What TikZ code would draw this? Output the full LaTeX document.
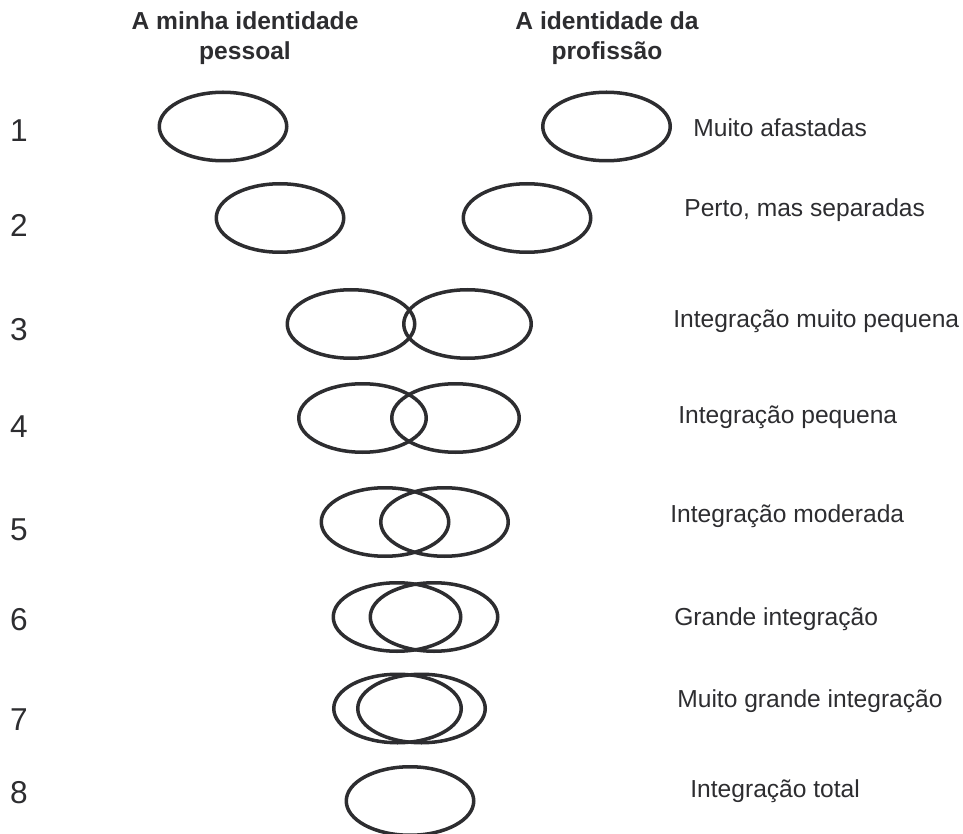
\documentclass[tikz,border=0pt]{standalone}
\usepackage{fontspec}
\setmainfont{Liberation Sans}
\usetikzlibrary{shapes.geometric}
\definecolor{ink}{RGB}{45,45,48}
\tikzset{ident/.style = {ellipse, draw=ink, line width=2pt, minimum width=2.55cm, minimum height=1.37cm, inner sep=0pt}}
\tikzset{head/.style = {align=center, text=ink, inner sep=0pt, font=\bfseries\fontsize{14}{17}\selectfont}}
\tikzset{grau/.style = {anchor=base, text=ink, inner sep=0pt, font=\fontsize{18}{20}\selectfont}}
\tikzset{nivel/.style = {anchor=base west, text=ink, inner sep=0pt, font=\fontsize{14}{16}\selectfont}}

\begin{document}
\begin{tikzpicture}[x=0.02cm, y=-0.02cm]
\useasboundingbox (0,0) rectangle (963,834);
\node[head] (hp) at (245,38) {A minha identidade\\pessoal};
\node[head] (hf) at (607,38) {A identidade da\\profissão};

\foreach \n/\y in {1/142,2/237,3/340,4/437,5/540,6/630,7/730,8/803}
  \node[grau] (n\n) at (19,\y) {\n};

\node[ident] (p1) at (223,126.5) {};
\node[ident] (f1) at (606.5,126.5) {};
\node[ident] (p2) at (280,218) {};
\node[ident] (f2) at (527,218) {};
\node[ident] (p3) at (351,324) {};
\node[ident] (f3) at (467.5,324) {};
\node[ident] (p4) at (362.5,418) {};
\node[ident] (f4) at (455.5,418) {};
\node[ident] (p5) at (385,522) {};
\node[ident] (f5) at (444.5,522) {};
\node[ident] (p6) at (397,617) {};
\node[ident] (f6) at (434,617) {};
\node[ident] (p7) at (397.5,708.5) {};
\node[ident] (f7) at (421.5,708.5) {};
\node[ident] (t8) at (410,801) {};

\node[nivel] (l1) at (693,137) {Muito afastadas};
\node[nivel] (l2) at (684,217) {Perto, mas separadas};
\node[nivel] (l3) at (673,328) {Integração muito pequena};
\node[nivel] (l4) at (678,423) {Integração pequena};
\node[nivel] (l5) at (670,522) {Integração moderada};
\node[nivel] (l6) at (674,625) {Grande integração};
\node[nivel] (l7) at (677,707) {Muito grande integração};
\node[nivel] (l8) at (690,797) {Integração total};
\end{tikzpicture}
\end{document}
